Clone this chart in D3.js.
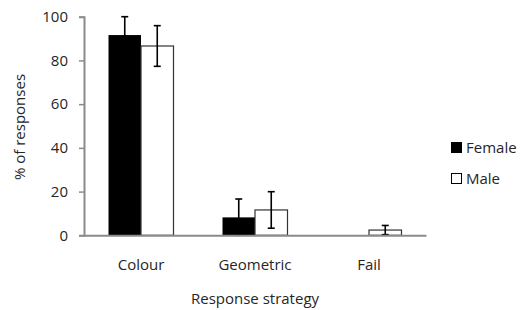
<!DOCTYPE html>
<html>
<head>
<meta charset="utf-8">
<script src="https://cdn.jsdelivr.net/npm/d3@7/dist/d3.min.js"></script>
<style>
  body { margin: 0; background: #fff; }
  text { font-family: "Open Sans", sans-serif; fill: #262626; }
</style>
</head>
<body>
<svg id="chart" width="520" height="310"></svg>
<script>
const categories = ["Colour", "Geometric", "Fail"]
const seriesNames = ["Female", "Male"]
const femaleValues = [91.6, 8.2, 0]
const femaleErrors = [8.4, 8.4, 0]
const maleValues = [86.6, 11.6, 2.4]
const maleErrors = [9.3, 8.35, 2.1]
const yTicks = [0, 20, 40, 60, 80, 100]

const margin = {top: 16.7, right: 94, bottom: 74.7, left: 84}
const width = 520
const height = 310
const chartWidth = 426 - margin.left
const chartHeight = height - margin.top - margin.bottom
const fontSize = "15px"

const rows = categories.map((c, i) => ({
  category: c,
  bars: [
    {series: "Female", value: femaleValues[i], err: femaleErrors[i]},
    {series: "Male", value: maleValues[i], err: maleErrors[i]}
  ]
}))

const svg = d3.select("#chart")
const g = svg.append("g")
    .attr("transform", `translate(${margin.left}, ${margin.top})`)

const x0 = d3.scaleBand()
    .domain(categories)
    .range([0, chartWidth])
    .padding(0)

const x1 = d3.scaleBand()
    .domain(seriesNames)
    .range([0, x0.bandwidth()])
    .paddingInner(0)
    .paddingOuter(0.754)

const y = d3.scaleLinear()
    .domain([0, 100])
    .range([chartHeight, 0])

const fillColor = d3.scaleOrdinal()
    .domain(seriesNames)
    .range(["#000000", "#ffffff"])

// y axis
const yAxis = g.append("g")
    .call(d3.axisLeft(y).tickValues(yTicks).tickSize(5).tickPadding(11))
yAxis.select(".domain").attr("stroke", "#8a8a8a").attr("stroke-width", 2)
yAxis.selectAll(".tick line").attr("stroke", "#8a8a8a").attr("stroke-width", 1.5)
yAxis.selectAll(".tick text")
    .style("font-size", fontSize)
    .style("font-family", "'Open Sans', sans-serif")
    .attr("fill", "#262626")

// bars
const groups = g.selectAll(".group")
    .data(rows)
  .enter()
    .append("g")
    .attr("class", "group")
    .attr("transform", (d) => `translate(${x0(d.category)}, 0)`)

groups.selectAll(".bar")
    .data((d) => d.bars.filter((b) => b.value > 0))
  .enter()
    .append("rect")
    .attr("class", "bar")
    .attr("x", (d) => x1(d.series))
    .attr("width", x1.bandwidth())
    .attr("y", (d) => y(d.value))
    .attr("height", (d) => chartHeight - y(d.value))
    .attr("fill", (d) => fillColor(d.series))
    .attr("stroke", (d) => d.series === "Male" ? "#333" : "none")
    .attr("stroke-width", 1.2)

// error bars
const errs = groups.selectAll(".err")
    .data((d) => d.bars.filter((b) => b.err > 0))
  .enter()
    .append("g")
    .attr("class", "err")
    .attr("stroke", "#000")
    .attr("stroke-width", 1.6)

const cx = (d) => x1(d.series) + x1.bandwidth() / 2
const capHalf = 3.5

errs.append("line")
    .attr("x1", cx).attr("x2", cx)
    .attr("y1", (d) => y(d.value + d.err))
    .attr("y2", (d) => y(Math.max(0, d.value - d.err)))
errs.append("line")
    .attr("x1", (d) => cx(d) - capHalf).attr("x2", (d) => cx(d) + capHalf)
    .attr("y1", (d) => y(d.value + d.err)).attr("y2", (d) => y(d.value + d.err))
errs.append("line")
    .attr("x1", (d) => cx(d) - capHalf).attr("x2", (d) => cx(d) + capHalf)
    .attr("y1", (d) => y(Math.max(0, d.value - d.err))).attr("y2", (d) => y(Math.max(0, d.value - d.err)))

// x axis
const xAxis = g.append("g")
    .attr("transform", `translate(0, ${chartHeight})`)
    .call(d3.axisBottom(x0).tickSize(0).tickPadding(24))
xAxis.select(".domain").attr("stroke", "#8a8a8a").attr("stroke-width", 2)
xAxis.selectAll(".tick text")
    .style("font-size", fontSize)
    .style("font-family", "'Open Sans', sans-serif")
    .attr("fill", "#262626")

// axis titles
svg.append("text")
    .attr("x", margin.left + chartWidth / 2)
    .attr("y", 304)
    .attr("text-anchor", "middle")
    .style("font-size", fontSize)
    .text("Response strategy")

svg.append("text")
    .attr("transform", "translate(25, 127) rotate(-90)")
    .attr("text-anchor", "middle")
    .style("font-size", fontSize)
    .text("% of responses")

// legend
const legend = svg.append("g")
    .attr("transform", "translate(451, 142)")

const items = legend.selectAll(".item")
    .data(seriesNames)
  .enter()
    .append("g")
    .attr("class", "item")
    .attr("transform", (d, i) => `translate(0, ${i * 31})`)

items.append("rect")
    .attr("x", 0.5).attr("y", 0.5)
    .attr("width", 10).attr("height", 10)
    .attr("fill", (d) => fillColor(d))
    .attr("stroke", "#000")
    .attr("stroke-width", 1)

items.append("text")
    .attr("x", 15)
    .attr("y", 11)
    .style("font-size", fontSize)
    .text((d) => d)
</script>
</body>
</html>
